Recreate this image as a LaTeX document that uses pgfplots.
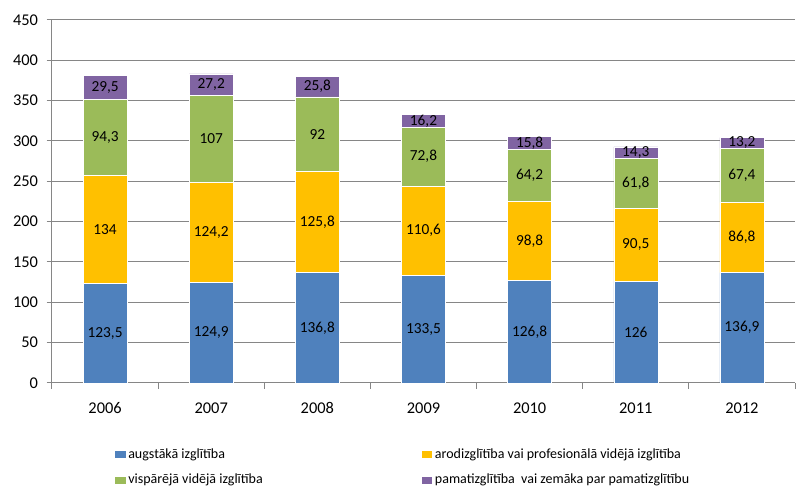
\documentclass[border=0pt]{standalone}
\usepackage{fontspec}
\setmainfont{Carlito}
\usepackage{pgfplots}
\usepackage{pgfplotstable}
\pgfplotsset{compat=1.18}
\definecolor{cA}{HTML}{4F81BD}
\definecolor{cB}{HTML}{FFC000}
\definecolor{cC}{HTML}{9BBB59}
\definecolor{cD}{HTML}{8064A2}
\definecolor{gridc}{HTML}{868686}

% iedzīvotāji pēc izglītības līmeņa
\pgfplotstableread{
year a b c d
2006 123.5 134 94.3 29.5
2007 124.9 124.2 107 27.2
2008 136.8 125.8 92 25.8
2009 133.5 110.6 72.8 16.2
2010 126.8 98.8 64.2 15.8
2011 126 90.5 61.8 14.3
2012 136.9 86.8 67.4 13.2
}\data

\begin{document}
\begin{tikzpicture}
\useasboundingbox (-39pt,-78.75pt) rectangle (569.25pt,287.25pt);
\begin{axis}[
    at={(0pt,0pt)}, anchor=south west,
    scale only axis,
    width=557.25pt, height=272.25pt,
    ybar stacked, bar width=33pt,
    xmin=-0.5, xmax=6.5, ymin=0, ymax=450,
    ytick={0,50,...,450},
    xtick={0,...,6},
    xticklabels={2006,2007,2008,2009,2010,2011,2012},
    minor xtick={-0.5,0.5,...,6.5},
    axis lines*=left,
    axis line style={gridc, line width=0.75pt},
    tick align=outside,
    major tick length=4pt, minor tick length=4.5pt,
    major x tick style={draw=none},
    minor x tick style={draw=gridc, line width=0.75pt},
    major y tick style={draw=gridc, line width=0.75pt},
    ymajorgrids,
    grid style={gridc, line width=0.75pt},
    tick label style={font=\fontsize{12.3}{14}\selectfont},
    xticklabel style={yshift=-7pt},
    yticklabel style={xshift=-3pt},
    /pgf/number format/assume math mode=true,
    /pgf/number format/use comma,
    /pgf/number format/1000 sep={},
    nodes near coords,
    point meta=explicit,
    every node near coord/.append style={anchor=center, text=black,
        font=\fontsize{11.5}{13}\selectfont},
    legend columns=2,
    legend style={draw=none, at={(axis description cs:0.079,-0.165)},
        anchor=north west, font=\fontsize{10.5}{12.5}\selectfont,
        row sep=6.5pt, cells={anchor=west}},
    legend image code/.code={\fill[#1,draw=none] (0pt,-2.6pt) rectangle (8pt,2.6pt);},
]
\addplot[fill=cA, draw=white, line width=0.4pt]
    table[x expr=\coordindex, y=a, meta=a] {\data};
\addlegendentry{\makebox[218pt][l]{augstākā\ izglītība}}
\addplot[fill=cB, draw=white, line width=0.4pt]
    table[x expr=\coordindex, y=b, meta=b] {\data};
\addlegendentry{arodizglītība vai profesionālā vidējā izglītība}
\addplot[fill=cC, draw=white, line width=0.4pt]
    table[x expr=\coordindex, y=c, meta=c] {\data};
\addlegendentry{\makebox[218pt][l]{vispārējā vidējā izglītība}}
\addplot[fill=cD, draw=white, line width=0.4pt]
    table[x expr=\coordindex, y=d, meta=d] {\data};
\addlegendentry{pamatizglītība~ vai zemāka par pamatizglītību}
\end{axis}
\end{tikzpicture}
\end{document}
